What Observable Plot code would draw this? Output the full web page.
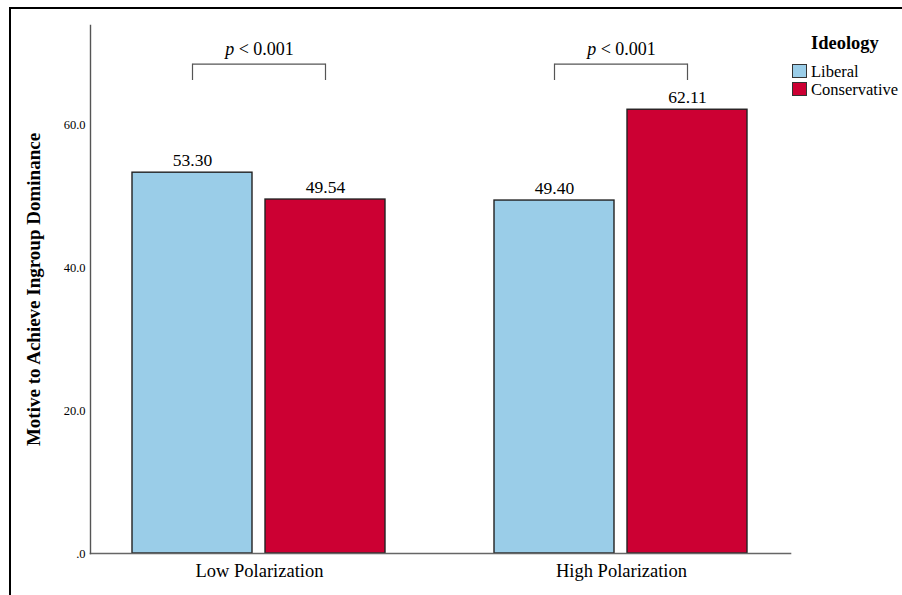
<!DOCTYPE html>
<html>
<head>
<meta charset="utf-8">
<script src="https://cdn.jsdelivr.net/npm/d3@7"></script>
<script src="https://cdn.jsdelivr.net/npm/@observablehq/plot@0.6"></script>
<style>
  body { margin: 0; background: #fff; font-family: "Liberation Serif", "Times New Roman", serif; }
  #wrap { position: relative; width: 902px; height: 595px; overflow: hidden; }
  #chart svg { display: block; }
  #border { position: absolute; left: 9px; top: 7px; width: 1000px; height: 700px;
            border-left: 2px solid #000; border-top: 2px solid #000; pointer-events: none; }
  #legend { position: absolute; left: 792px; top: 30px; color: #000; }
  #legend .title { position: absolute; left: 19px; top: 0; font-weight: bold; font-size: 18.5px; white-space: nowrap; line-height: 26px; }
  #legend .item { position: absolute; left: 0; white-space: nowrap; font-size: 16.5px; line-height: 18px; }
  #legend .sw { display: inline-block; width: 13px; height: 12px; border: 1px solid #333; vertical-align: -1px; margin-right: 4px; }
</style>
</head>
<body>
<div id="wrap">
  <div id="chart"></div>
  <div id="legend"></div>
  <div id="border"></div>
</div>
<script>
// ---- data ----
const groups = ["Low Polarization", "High Polarization"];
const ideologies = ["Liberal", "Conservative"];
const liberalMeans = [53.30, 49.40];
const conservativeMeans = [49.54, 62.11];
const pLabels = ["p < 0.001", "p < 0.001"];
const yTicks = [0, 20, 40, 60];
const colors = ["#9ACDE8", "#CC0033"];
const yTitle = "Motive to Achieve Ingroup Dominance";
const legendTitle = "Ideology";

// ---- tables built from the arrays ----
const rows = groups.flatMap((g, i) => [
  {group: g, ideology: ideologies[0], value: liberalMeans[i]},
  {group: g, ideology: ideologies[1], value: conservativeMeans[i]}
]);
const brackets = groups.map((g, i) => ({group: g, label: pLabels[i]}));
const bracketEnds = groups.flatMap(g => ideologies.map(k => ({group: g, ideology: k})));

const bracketTop = 68.5;
const bracketBottom = 66.2;

const chart = Plot.plot({
  width: 902,
  height: 595,
  marginLeft: 90,
  marginRight: 112,
  marginTop: 25,
  marginBottom: 42,
  style: {fontFamily: "'Liberation Serif', 'Times New Roman', serif", background: "transparent", color: "#000"},
  fx: {domain: groups, paddingInner: 0.0663, paddingOuter: 0, label: null},
  x: {domain: ideologies, paddingInner: 0.0974, paddingOuter: 0.3146, axis: null},
  y: {domain: [0, 73.9], label: null},
  color: {domain: ideologies, range: colors},
  marks: [
    Plot.barY(rows, {fx: "group", x: "ideology", y: "value", fill: "ideology", stroke: "#222", strokeWidth: 1.4}),
    Plot.text(rows, {fx: "group", x: "ideology", y: "value", text: d => d.value.toFixed(2),
      lineAnchor: "bottom", dy: -7, fontSize: 17.5, fill: "#000"}),
    Plot.link(brackets, {fx: "group", x1: () => ideologies[0], x2: () => ideologies[1],
      y1: () => bracketTop, y2: () => bracketTop, stroke: "#555", strokeWidth: 1.2}),
    Plot.ruleX(bracketEnds, {fx: "group", x: "ideology", y1: () => bracketBottom, y2: () => bracketTop,
      stroke: "#555", strokeWidth: 1.2}),
    Plot.text(brackets, {fx: "group", text: "label", y: () => bracketTop, lineAnchor: "bottom", dy: -9, fontSize: 18, fill: "#000"}),
    Plot.frame({anchor: "bottom", facet: "super", stroke: "#666", strokeWidth: 1.6}),
    Plot.frame({anchor: "left", facet: "super", stroke: "#555", strokeWidth: 1.4}),
    Plot.axisY(yTicks, {tickSize: 0, tickPadding: 5, fontSize: 12.5, label: null,
      tickFormat: d => d === 0 ? ".0" : d.toFixed(1)}),
    Plot.axisFx({anchor: "bottom", tickSize: 0, tickPadding: 10, fontSize: 18.5, label: null}),
    Plot.text([yTitle], {facet: "super", frameAnchor: "left", text: d => d, rotate: -90, dx: -64,
      textAnchor: "middle", lineAnchor: "top", fontSize: 19, fontWeight: "bold", fill: "#000"})
  ]
});

document.getElementById("chart").append(chart);

// italic "p" in the significance labels
d3.select(chart).selectAll("text").filter(function() {
  return pLabels.includes(this.textContent);
}).each(function() {
  const t = d3.select(this);
  const s = this.textContent;
  t.text(null);
  t.append("tspan").attr("font-style", "italic").text(s.slice(0, 1));
  t.append("tspan").text(s.slice(1));
});

// legend
const legend = d3.select("#legend");
legend.append("div").attr("class", "title").text(legendTitle);
ideologies.forEach((k, i) => {
  const item = legend.append("div").attr("class", "item").style("top", (33 + i * 18) + "px");
  item.append("span").attr("class", "sw").style("background", colors[i]);
  item.append("span").text(k);
});
</script>
</body>
</html>
